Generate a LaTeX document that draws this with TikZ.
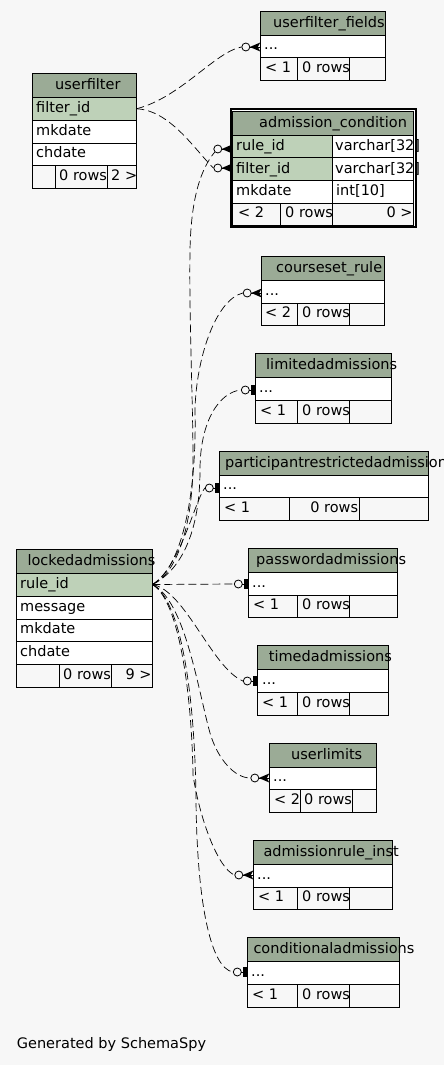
\documentclass[tikz,border=0pt]{standalone}
\usepackage{fontspec}
\setmainfont{DejaVu Sans}
\definecolor{bg}{HTML}{F7F7F7}
\definecolor{hdr}{HTML}{9BAB96}
\definecolor{keyc}{HTML}{BED1B8}
\tikzset{
  cellb/.style={draw=black, line width=0.9pt},
  lbl/.style={anchor=base west, inner sep=0pt, font=\fontsize{14.5}{17}\selectfont},
  lblr/.style={anchor=base east, inner sep=0pt, font=\fontsize{14.5}{17}\selectfont},
  rel/.style={draw=black, line width=0.7pt, dash pattern=on 8pt off 4pt},
  opt/.style={circle, draw=black, fill=bg, line width=0.8pt, minimum size=8pt, inner sep=0pt},
}
\newcommand\cellr[5]{\filldraw[cellb, fill=#5] (#1,#2) rectangle (#3,#4);}
\newcommand\childtbl[8]{%
  \cellr{#1}{#3}{#2}{#4}{hdr}
  \cellr{#1}{#4}{#2}{#5}{white}
  \cellr{#1}{#5}{#7}{#6}{bg}
  \cellr{#7}{#5}{#8}{#6}{bg}
  \cellr{#8}{#5}{#2}{#6}{bg}}
\newcommand\crowmark[3]{%
  \node[opt] (#1) at (#2-14.5,#3) {};
  \fill (#2-10.5,#3) -- (#2,#3-4.5) -- (#2-2.5,#3) -- (#2,#3+4.5) -- cycle;
  \draw[line width=0.8pt] (#2-10.5,#3) -- (#2,#3);}
\newcommand\barmark[3]{%
  \node[opt] (#1) at (#2-10,#3) {};
  \draw[line width=0.8pt] (#2-6,#3) -- (#2,#3);
  \fill (#2-4,#3-5) rectangle (#2-0.8,#3+5);}
\begin{document}
\begin{tikzpicture}[x=1pt,y=-1pt]
\useasboundingbox (0,0) rectangle (444,1065);
\fill[bg] (0,0) rectangle (444,1065);

% userfilter_fields
\childtbl{260.3}{385.7}{11.3}{35.3}{57.3}{80.3}{297.3}{349.3}
\node[lbl] (uff-h) at (273,27.3) {userfilter\_fields};
\node[lbl] (uff-r) at (264,49.3) {...};
\node[lbl] (uff-f1) at (265,72.3) {< 1};
\node[lbl] (uff-f2) at (302,72.3) {0 rows};

% userfilter
\cellr{32.3}{73.3}{136.3}{97.3}{hdr}
\cellr{32.3}{97.3}{136.3}{120.3}{keyc}
\cellr{32.3}{120.3}{136.3}{143.3}{white}
\cellr{32.3}{143.3}{136.3}{165}{white}
\cellr{32.3}{165}{55.7}{188}{bg}
\cellr{55.7}{165}{107.7}{188}{bg}
\cellr{107.7}{165}{136.3}{188}{bg}
\node[lbl] (uf-h) at (55,89.3) {userfilter};
\node[lbl] (uf-r1) at (36,112.3) {filter\_id};
\node[lbl] (uf-r2) at (36,135.3) {mkdate};
\node[lbl] (uf-r3) at (36,157) {chdate};
\node[lbl] (uf-f2) at (59,180) {0 rows};
\node[lbl] (uf-f3) at (111,180) {2 >};

% admission_condition
\draw[line width=2pt, fill=white] (230.7,109.3) rectangle (416,227.3);
\cellr{232.3}{111.7}{413.7}{135}{hdr}
\cellr{232.3}{135}{332.7}{157.7}{keyc}
\cellr{332.7}{135}{413.7}{157.7}{white}
\cellr{232.3}{157.7}{332.7}{180.7}{keyc}
\cellr{332.7}{157.7}{413.7}{180.7}{white}
\cellr{232.3}{180.7}{332.7}{203.3}{white}
\cellr{332.7}{180.7}{413.7}{203.3}{white}
\cellr{232.3}{203.3}{280}{225}{bg}
\cellr{280}{203.3}{332.7}{225}{bg}
\cellr{332.7}{203.3}{413.7}{225}{bg}
\node[lbl] (ac-h) at (259,127.3) {admission\_condition};
\node[lbl] (ac-r1) at (236,150) {rule\_id};
\node[lbl] (ac-t1) at (335,150) {varchar[32]};
\node[lbl] (ac-r2) at (236,173) {filter\_id};
\node[lbl] (ac-t2) at (335,173) {varchar[32]};
\node[lbl] (ac-r3) at (236,195.6) {mkdate};
\node[lbl] (ac-t3) at (336,195.6) {int[10]};
\node[lbl] (ac-f1) at (238,217.3) {< 2};
\node[lbl] (ac-f2) at (285,217.3) {0 rows};
\node[lblr] (ac-f3) at (412.7,217.3) {0 >};

% courseset_rule
\childtbl{261.7}{384.3}{256.3}{280.7}{303}{325.3}{297.3}{349.3}
\node[lbl] (cs-h) at (276,272.7) {courseset\_rule};
\node[lbl] (cs-r) at (265,295) {...};
\node[lbl] (cs-f1) at (265,317.3) {< 2};
\node[lbl] (cs-f2) at (302,317.3) {0 rows};

% limitedadmissions
\childtbl{255.3}{391.3}{353.3}{377}{400}{423}{297.3}{349.3}
\node[lbl] (lim-h) at (266,369) {limitedadmissions};
\node[lbl] (lim-r) at (259,392) {...};
\node[lbl] (lim-f1) at (260,415) {< 1};
\node[lbl] (lim-f2) at (302,415) {0 rows};

% participantrestrictedadmissions
\childtbl{219.3}{428.3}{451}{475}{497.3}{520}{289.3}{359.3}
\node[lbl] (pr-h) at (225,467) {participantrestrictedadmissions};
\node[lbl] (pr-r) at (223,489.3) {...};
\node[lbl] (pr-f1) at (224,512) {< 1};
\node[lblr] (pr-f2) at (358.3,512) {0 rows};

% passwordadmissions
\childtbl{248.3}{397.7}{548.3}{572.3}{595.3}{617.3}{297.3}{349.3}
\node[lbl] (pw-h) at (256,564.3) {passwordadmissions};
\node[lbl] (pw-r) at (252,587.3) {...};
\node[lbl] (pw-f1) at (253,609.3) {< 1};
\node[lbl] (pw-f2) at (302,609.3) {0 rows};

% timedadmissions
\childtbl{257.3}{388.3}{645.7}{669.7}{692.3}{715}{297.3}{349.3}
\node[lbl] (tm-h) at (268.7,661.7) {timedadmissions};
\node[lbl] (tm-r) at (262,684.3) {...};
\node[lbl] (tm-f1) at (262,707) {< 1};
\node[lbl] (tm-f2) at (302,707) {0 rows};

% userlimits
\childtbl{269.3}{376.3}{743.3}{767.3}{789.7}{812.3}{300.7}{352.3}
\node[lbl] (ul-h) at (291,759.3) {userlimits};
\node[lbl] (ul-r) at (273,781.7) {...};
\node[lbl] (ul-f1) at (274,804.3) {< 2};
\node[lbl] (ul-f2) at (304,804.3) {0 rows};

% admissionrule_inst
\childtbl{253.3}{392.3}{840.3}{864.3}{887.3}{909.3}{297.3}{349.3}
\node[lbl] (ar-h) at (263.3,856.3) {admissionrule\_inst};
\node[lbl] (ar-r) at (257,879.3) {...};
\node[lbl] (ar-f1) at (258,901.3) {< 1};
\node[lbl] (ar-f2) at (302,901.3) {0 rows};

% conditionaladmissions
\childtbl{247.3}{399.3}{937.3}{961.3}{984.3}{1007}{297.3}{349.3}
\node[lbl] (ca-h) at (253.3,953.3) {conditionaladmissions};
\node[lbl] (ca-r) at (251,976.3) {...};
\node[lbl] (ca-f1) at (252,999) {< 1};
\node[lbl] (ca-f2) at (302,999) {0 rows};

% lockedadmissions
\cellr{16.3}{549.3}{152.3}{573.3}{hdr}
\cellr{16.3}{573.3}{152.3}{596.3}{keyc}
\cellr{16.3}{596.3}{152.3}{619.3}{white}
\cellr{16.3}{619.3}{152.3}{641.3}{white}
\cellr{16.3}{641.3}{152.3}{664.3}{white}
\cellr{16.3}{664.3}{59.3}{687}{bg}
\cellr{59.3}{664.3}{111.3}{687}{bg}
\cellr{111.3}{664.3}{152.3}{687}{bg}
\node[lbl] (la-h) at (27.3,565.6) {lockedadmissions};
\node[lbl] (la-r1) at (20,588.6) {rule\_id};
\node[lbl] (la-r2) at (20,611.3) {message};
\node[lbl] (la-r3) at (20,633.3) {mkdate};
\node[lbl] (la-r4) at (20,656.3) {chdate};
\node[lbl] (la-f2) at (63,679) {0 rows};
\node[lblr] (la-f3) at (151.7,679) {9 >};

\node[lbl] (gen) at (16.7,1048.3) {Generated by SchemaSpy};

% end markers
\crowmark{m-uff}{260.3}{47}
\crowmark{m-acr}{232.3}{149}
\crowmark{m-acf}{232.3}{168}
\crowmark{m-cs}{261.7}{293}
\barmark{m-lim}{255.3}{390}
\barmark{m-pr}{219.3}{488}
\barmark{m-pw}{248.3}{584}
\barmark{m-tm}{257.3}{681}
\crowmark{m-ul}{269.3}{778}
\crowmark{m-ar}{253.3}{875}
\barmark{m-ca}{247.3}{972}

% parent anchors
\coordinate (uf) at (136.3,108.8);
\coordinate (la) at (152.3,584.5);

% connectors
\draw[rel] (uf) .. controls (180,98) and (215,52) .. (m-uff.west);
\draw[rel] (uf) .. controls (170,110) and (195,150) .. (m-acf.west);
\draw[rel] (la) .. controls (175,575) and (193,530) .. (193,460)
   .. controls (193,400) and (189,320) .. (190,250)
   .. controls (191,200) and (200,170) .. (m-acr.south west);
\draw[rel] (la) .. controls (180,570) and (197,500) .. (195,410)
   .. controls (196,360) and (215,300) .. (m-cs.west);
\draw[rel] (la) .. controls (182,570) and (200,530) .. (200,470)
   .. controls (200,420) and (220,392) .. (m-lim.west);
\draw[rel] (la) .. controls (180,568) and (195,500) .. (m-pr.west);
\draw[rel] (la) -- (m-pw.west);
\draw[rel] (la) .. controls (185,590) and (212,668) .. (m-tm.west);
\draw[rel] (la) .. controls (185,600) and (198,690) .. (210,733)
   .. controls (218,760) and (235,778) .. (m-ul.west);
\draw[rel] (la) .. controls (180,600) and (192,700) .. (193,775)
   .. controls (200,820) and (218,868) .. (m-ar.west);
\draw[rel] (la) .. controls (182,600) and (195,700) .. (196,800)
   .. controls (197,900) and (210,968) .. (m-ca.west);
\end{tikzpicture}
\end{document}
